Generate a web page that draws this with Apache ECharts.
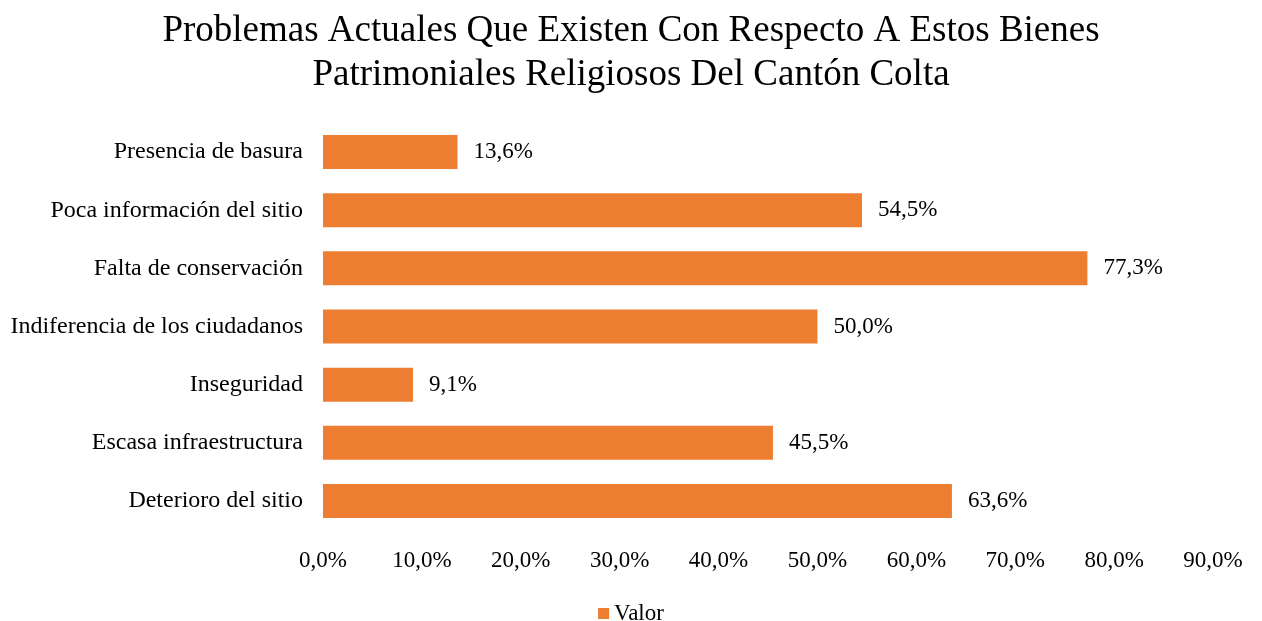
<!DOCTYPE html>
<html>
<head>
<meta charset="utf-8">
<script src="https://cdn.jsdelivr.net/npm/echarts@6/dist/echarts.min.js"></script>
<style>html,body{margin:0;padding:0;background:#fff}#c{width:1262px;height:621px}</style>
</head>
<body>
<div id="c"></div>
<script>
const categories = ["Deterioro del sitio","Escasa infraestructura","Inseguridad","Indiferencia de los ciudadanos","Falta de conservación","Poca información del sitio","Presencia de basura"];
const values = [63.6, 45.5, 9.1, 50.0, 77.3, 54.5, 13.6];
const seriesName = "Valor";
const titleText = "Problemas Actuales Que Existen Con Respecto A Estos Bienes\nPatrimoniales Religiosos Del Cantón Colta";

const font = "'Liberation Serif','Times New Roman',serif";
const chart = echarts.init(document.getElementById('c'));
chart.setOption({
  backgroundColor: '#fff',
  animation: false,
  title: {
    text: titleText,
    left: 'center',
    top: 4,
    textStyle: {fontFamily: font, fontSize: 37, fontWeight: 'normal', color: '#000', lineHeight: 44}
  },
  legend: {
    data: [seriesName],
    top: 597,
    left: 'center',
    icon: 'rect',
    itemWidth: 11,
    itemHeight: 11,
    itemGap: 6,
    textStyle: {fontFamily: font, fontSize: 23, color: '#000'}
  },
  grid: {left: 323, right: 49, top: 123, bottom: 91, containLabel: false},
  xAxis: {
    type: 'value',
    min: 0, max: 90, interval: 10,
    axisLine: {show: false},
    axisTick: {show: false},
    splitLine: {show: false},
    axisLabel: {
      fontFamily: font, fontSize: 23, color: '#000', margin: 19,
      formatter: v => v.toFixed(1).replace('.', ',') + '%'
    }
  },
  yAxis: {
    type: 'category',
    data: categories,
    axisLine: {show: false},
    axisTick: {show: false},
    axisLabel: {fontFamily: font, fontSize: 24, color: '#000', margin: 20}
  },
  series: [{
    name: seriesName,
    type: 'bar',
    data: values,
    barWidth: 34,
    itemStyle: {color: '#ED7D31'},
    label: {
      show: true,
      position: 'right',
      distance: 16,
      fontFamily: font, fontSize: 23, color: '#000',
      formatter: p => p.value.toFixed(1).replace('.', ',') + '%'
    }
  }]
});
</script>
</body>
</html>
